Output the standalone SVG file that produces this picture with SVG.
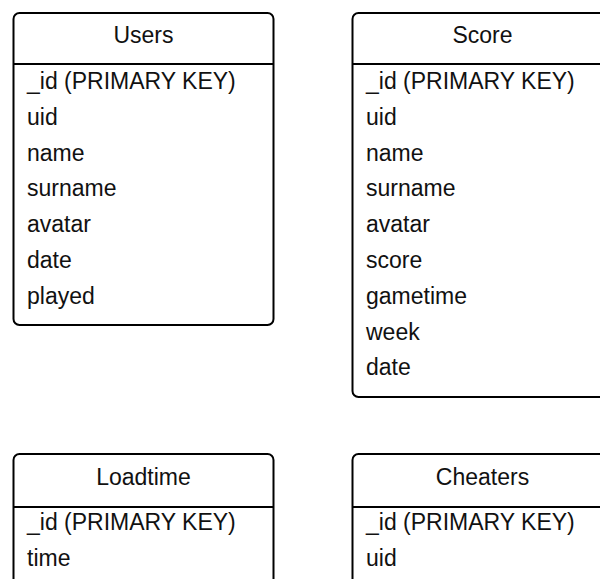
<svg xmlns="http://www.w3.org/2000/svg" width="600" height="579" viewBox="0 0 600 579">
<style>
.box{fill:#fff;stroke:#000;stroke-width:2}
.sep{stroke:#000;stroke-width:2}
text{font-family:"Liberation Sans",Arial,sans-serif;font-size:23px;fill:#111}
.t{text-anchor:middle}
</style>
<rect width="600" height="579" fill="#fff"/>
<g id="users">
<rect class="box" x="13.5" y="13" width="260" height="312" rx="6"/>
<line class="sep" x1="13.5" y1="64" x2="273.5" y2="64"/>
<text class="t" x="143.5" y="43">Users</text>
<text x="27" y="89">_id (PRIMARY KEY)</text>
<text x="27" y="124.8">uid</text>
<text x="27" y="160.6">name</text>
<text x="27" y="196.4">surname</text>
<text x="27" y="232.2">avatar</text>
<text x="27" y="268">date</text>
<text x="27" y="303.8">played</text>
</g>
<g id="score">
<rect class="box" x="352.5" y="13" width="260" height="384" rx="6"/>
<line class="sep" x1="352.5" y1="64" x2="612.5" y2="64"/>
<text class="t" x="482.5" y="43">Score</text>
<text x="366" y="89">_id (PRIMARY KEY)</text>
<text x="366" y="124.8">uid</text>
<text x="366" y="160.6">name</text>
<text x="366" y="196.4">surname</text>
<text x="366" y="232.2">avatar</text>
<text x="366" y="268">score</text>
<text x="366" y="303.8">gametime</text>
<text x="366" y="339.6">week</text>
<text x="366" y="375.4">date</text>
</g>
<g id="loadtime">
<rect class="box" x="13.5" y="454" width="260" height="160" rx="6"/>
<line class="sep" x1="13.5" y1="507" x2="273.5" y2="507"/>
<text class="t" x="143.5" y="485">Loadtime</text>
<text x="27" y="530">_id (PRIMARY KEY)</text>
<text x="27" y="565.8">time</text>
</g>
<g id="cheaters">
<rect class="box" x="352.5" y="454" width="260" height="160" rx="6"/>
<line class="sep" x1="352.5" y1="507" x2="612.5" y2="507"/>
<text class="t" x="482.5" y="485">Cheaters</text>
<text x="366" y="530">_id (PRIMARY KEY)</text>
<text x="366" y="565.8">uid</text>
</g>
<g id="connectors"/>
</svg>
